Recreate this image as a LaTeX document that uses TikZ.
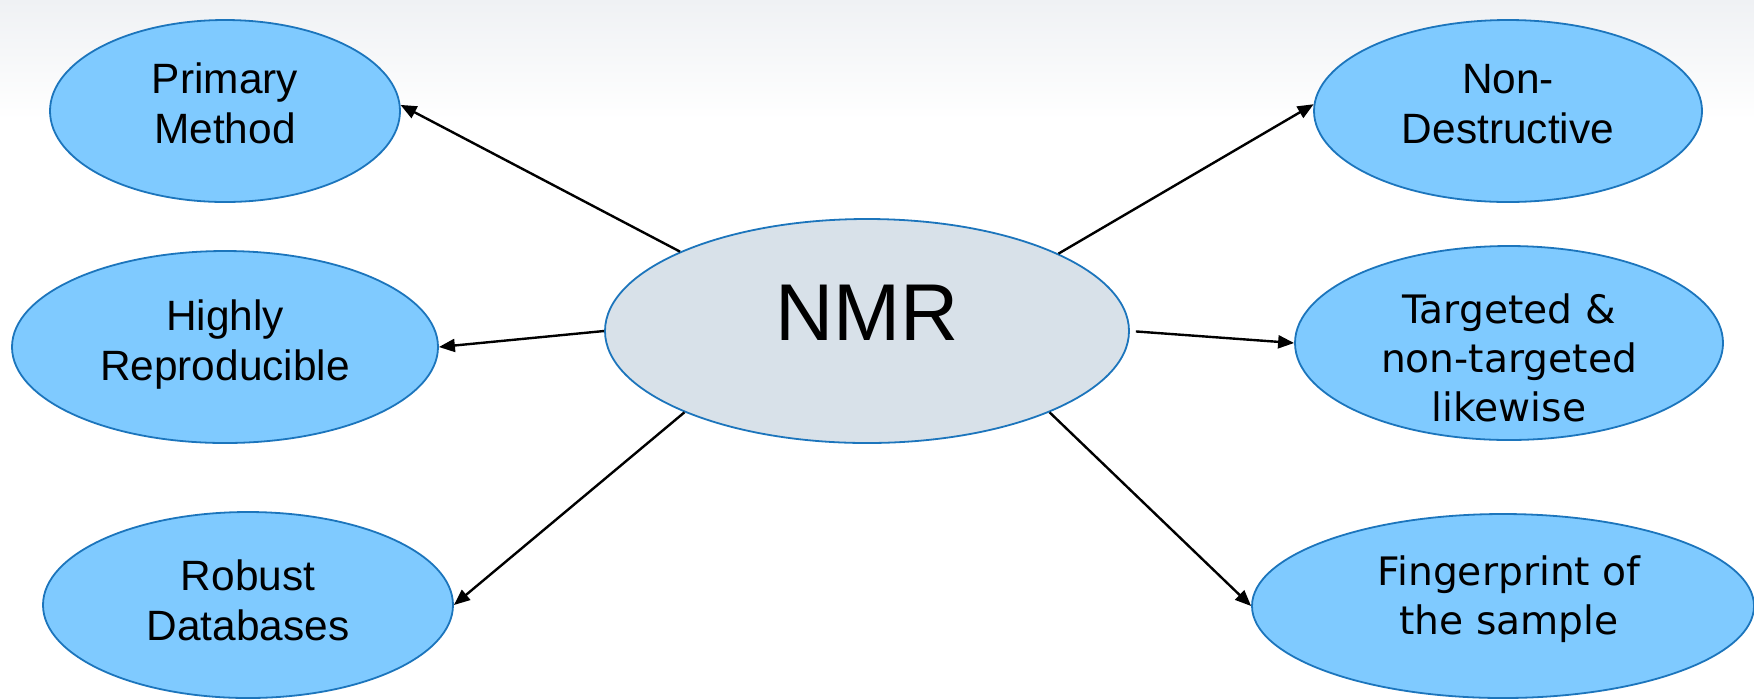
\documentclass[tikz,border=0pt]{standalone}
\usepackage{fontspec}
\setmainfont{Liberation Sans}
\newfontfamily\dejavu{DejaVu Sans}
\usetikzlibrary{arrows.meta,shapes.geometric}
\definecolor{leaffill}{HTML}{7FCAFF}
\definecolor{hubfill}{HTML}{D8E1E9}
\definecolor{rimblue}{HTML}{1C75BC}
\definecolor{topgrey}{HTML}{EFF1F4}
\tikzset{
  leaf/.style={ellipse, draw=rimblue, line width=0.9pt, fill=leaffill, inner sep=0pt},
  hub/.style={ellipse, draw=rimblue, line width=0.9pt, fill=hubfill, inner sep=0pt},
  leaftext/.style={align=center, inner sep=0pt, font=\fontsize{21.2}{25}\selectfont},
  leaftextdv/.style={align=center, inner sep=0pt, font=\dejavu\fontsize{19.6}{24.5}\selectfont},
  link/.style={draw=black, line width=1.2pt, -{Triangle[length=8pt,width=6.5pt]}}
}
\begin{document}
\begin{tikzpicture}[x=0.5pt,y=-0.5pt]
  % canvas and soft grey band along the top edge
  \useasboundingbox (0,0) rectangle (1754,698);
  \fill[white] (0,0) rectangle (1754,698);
  \shade[top color=topgrey, bottom color=white] (0,0) rectangle (1754,120);

  % central hub
  \node[hub, minimum width=262pt, minimum height=112pt] (nmr) at (867,331) {};
  \node[inner sep=0pt, font=\fontsize{40.3}{46}\selectfont] (nmrtext) at (867,313) {NMR};

  % left-hand properties
  \node[leaf, minimum width=175pt, minimum height=91pt] (prim) at (225,111) {};
  \node[leaftext] (primtext) at (225,103) {Primary\\Method};

  \node[leaf, minimum width=213pt, minimum height=96pt] (repr) at (225,347) {};
  \node[leaftext] (reprtext) at (225,345) {Highly\\Reproducible};

  \node[leaf, minimum width=205pt, minimum height=93pt] (data) at (248,605) {};
  \node[leaftext] (datatext) at (248,600) {Robust\\Databases};

  % right-hand properties
  \node[leaf, minimum width=194pt, minimum height=91pt] (nond) at (1508,111) {};
  \node[leaftext] (nondtext) at (1508,104) {Non-\\Destructive};

  \node[leaf, minimum width=214pt, minimum height=97pt] (targ) at (1509,343) {};
  \node[leaftextdv] (targtext) at (1509,358) {Targeted \&\\non-targeted\\likewise};

  \node[leaf, minimum width=251pt, minimum height=92pt] (fing) at (1503,606) {};
  \node[leaftextdv] (fingtext) at (1509,599) {Fingerprint of\\the sample};

  % connectors from the hub outwards
  \draw[link] (nmr.157.2) -- (prim.2);
  \draw[link] (nmr.180.4) -- (repr.east);
  \draw[link] (nmr.204.3) -- (data.east);
  \draw[link] (nmr.22.8) -- (nond.178.7);
  \draw[link, shorten <=3pt] (nmr.0.6) -- (targ.west);
  \draw[link] (nmr.-24.3) -- (fing.west);
\end{tikzpicture}
\end{document}
